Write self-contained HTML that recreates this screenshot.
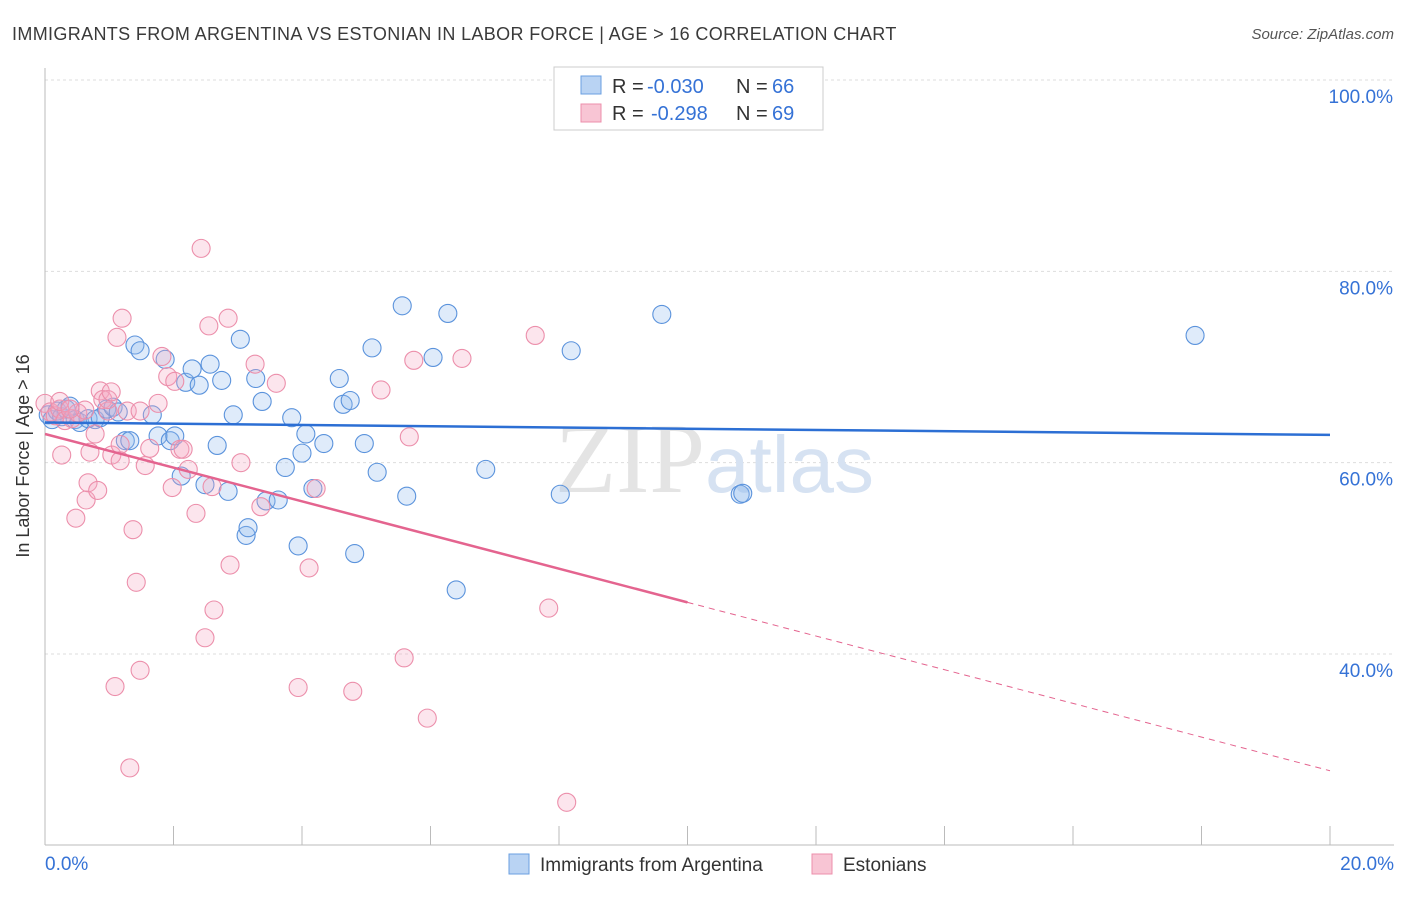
<!DOCTYPE html>
<html><head><meta charset="utf-8"><style>
body{margin:0;background:#fff;font-family:"Liberation Sans",sans-serif;}
</style></head><body>
<svg width="1406" height="892" xmlns="http://www.w3.org/2000/svg">
<text x="12" y="40" font-size="18" fill="#3a3a3a" letter-spacing="0.35">IMMIGRANTS FROM ARGENTINA VS ESTONIAN IN LABOR FORCE | AGE &gt; 16 CORRELATION CHART</text>
<text x="1394" y="39" font-size="15" fill="#555" text-anchor="end" font-style="italic">Source: ZipAtlas.com</text>
<g id="grid"></g>
<text x="555" y="492" font-size="100" fill="#e4e4e4" font-family="Liberation Serif">ZIP<tspan fill="#d6e2f2" font-family="Liberation Sans" font-size="80">atlas</tspan></text>
<line x1="45" y1="68" x2="45" y2="845" stroke="#bbb"/>
<line x1="45" y1="845" x2="1394" y2="845" stroke="#bbb"/>
<text x="29" y="456" font-size="18" fill="#333" text-anchor="middle" transform="rotate(-90 29 456)">In Labor Force | Age &gt; 16</text>
<g id="marks"></g>
<g>
<rect x="554" y="67" width="269" height="63" fill="#fff" stroke="#ccc"/>
<rect x="581" y="76" width="20" height="18" fill="#b9d3f3" stroke="#6a9fe0"/>
<rect x="581" y="104" width="20" height="18" fill="#f8c5d4" stroke="#ec8fab"/>
<text x="612" y="93" font-size="20" fill="#333">R =</text>
<text x="647" y="93" font-size="20" fill="#3572d6">-0.030</text>
<text x="736" y="93" font-size="20" fill="#333">N =</text>
<text x="772" y="93" font-size="20" fill="#3572d6">66</text>
<text x="612" y="120" font-size="20" fill="#333">R =</text>
<text x="651" y="120" font-size="20" fill="#3572d6">-0.298</text>
<text x="736" y="120" font-size="20" fill="#333">N =</text>
<text x="772" y="120" font-size="20" fill="#3572d6">69</text>
</g>
<g>
<rect x="509" y="854" width="20" height="20" fill="#b9d3f3" stroke="#6a9fe0"/>
<text x="540" y="871" font-size="19" fill="#333">Immigrants from Argentina</text>
<rect x="812" y="854" width="20" height="20" fill="#f8c5d4" stroke="#ec8fab"/>
<text x="843" y="871" font-size="19" fill="#333">Estonians</text>
</g>
</svg>
<script>
const yTicks=[100,80,60,40];
const xTicks=[0,2,4,6,8,10,12,14,16,18,20];
const blueX=[0.05,0.11,0.19,0.26,0.33,0.39,0.47,0.54,0.67,0.78,0.86,0.96,1.06,1.14,1.25,1.32,1.40,1.48,1.67,1.76,1.87,1.95,2.02,2.12,2.19,2.29,2.40,2.49,2.57,2.68,2.75,2.85,2.93,3.04,3.13,3.16,3.28,3.38,3.44,3.63,3.74,3.84,3.94,4.00,4.06,4.17,4.34,4.58,4.64,4.75,4.82,4.97,5.09,5.17,5.56,5.63,6.04,6.27,6.40,6.86,8.02,8.19,9.60,10.82,10.86,17.90];
const blueY=[65.0,64.5,65.4,64.8,65.6,65.9,64.5,64.2,64.6,64.5,64.7,65.6,65.8,65.3,62.3,62.3,72.3,71.7,65.0,62.8,70.8,62.3,62.8,58.6,68.4,69.8,68.1,57.7,70.3,61.8,68.6,57.0,65.0,72.9,52.4,53.2,68.8,66.4,56.0,56.1,59.5,64.7,51.3,61.0,63.0,57.3,62.0,68.8,66.1,66.5,50.5,62.0,72.0,59.0,76.4,56.5,71.0,75.6,46.7,59.3,56.7,71.7,75.5,56.7,56.8,73.3];
const pinkX=[0.0,0.08,0.16,0.23,0.31,0.42,0.51,0.62,0.70,0.78,0.86,0.90,0.98,1.04,1.12,1.17,1.20,1.28,1.37,1.42,1.48,1.56,1.63,1.76,1.82,1.91,1.98,2.02,2.10,2.15,2.23,2.35,2.43,2.49,2.55,2.60,2.63,2.85,2.88,3.05,3.27,3.36,3.60,3.94,4.11,4.22,4.79,5.23,5.59,5.67,5.74,5.95,6.49,7.63,7.84,8.12,1.32,1.09,0.48,0.64,0.67,0.82,0.98,1.17,0.26,1.48,1.03,0.23,0.39];
const pinkY=[66.2,65.3,64.9,65.6,64.4,64.6,65.2,65.5,61.1,63.0,67.5,66.6,65.4,60.8,73.1,61.9,75.1,65.4,53.0,47.5,38.3,59.7,61.5,66.2,71.1,69.0,57.4,68.5,61.4,61.4,59.3,54.7,82.4,41.7,74.3,57.5,44.6,75.1,49.3,60.0,70.3,55.4,68.3,36.5,49.0,57.3,36.1,67.6,39.6,62.7,70.7,33.3,70.9,73.3,44.8,24.5,28.1,36.6,54.2,56.1,57.9,57.1,66.6,60.2,60.8,65.4,67.4,66.4,65.6];
const blueFit=[64.2,62.9];
const pinkFit=[63.0,27.8];
const X=v=>45+v/20*1285, Y=v=>80+(100-v)*9.567;
const NS='http://www.w3.org/2000/svg';
const grid=document.getElementById('grid'), marks=document.getElementById('marks');
function mk(tag,at,parent){const e=document.createElementNS(NS,tag);for(const k in at)e.setAttribute(k,at[k]);parent.appendChild(e);return e;}
yTicks.forEach(t=>{
 const l=mk('line',{x1:45,x2:1394,y1:Y(t),y2:Y(t),stroke:'#ddd','stroke-dasharray':'3,3'},grid);
 
 
 const tx=mk('text',{x:1393,y:Y(t)+23,'font-size':19,fill:'#3572d6','text-anchor':'end'},grid);
 tx.textContent=t.toFixed(1)+'%';
 
 
});
xTicks.forEach(t=>{
 const l=mk('line',{x1:X(t),x2:X(t),y1:826,y2:845,stroke:'#bbb'},grid);
 
 
});
[[0,'0.0%',45,'start'],[20,'20.0%',1394,'end']].forEach(a=>{
 const tx=mk('text',{x:a[2],y:870,'font-size':19,fill:'#3572d6','text-anchor':a[3]},grid);
 tx.textContent=a[1];
 
 
});
blueX.forEach((v,i)=>{
 const c=mk('circle',{cx:X(v),cy:Y(blueY[i]),r:9,fill:'rgba(150,190,240,0.3)',stroke:'#5b93dc','stroke-width':1.1},marks);
 
 
});
pinkX.forEach((v,i)=>{
 const c=mk('circle',{cx:X(v),cy:Y(pinkY[i]),r:9,fill:'rgba(245,170,195,0.3)',stroke:'#ec8fab','stroke-width':1.1},marks);
 
 
});
const bl=mk('line',{x1:X(0),y1:Y(blueFit[0]),x2:X(20),y2:Y(blueFit[1]),stroke:'#2c6fd4','stroke-width':2.5},marks);


const pm=pinkFit[0]+(pinkFit[1]-pinkFit[0])*0.5;
const pl=mk('line',{x1:X(0),y1:Y(pinkFit[0]),x2:X(10),y2:Y(pm),stroke:'#e4648f','stroke-width':2.5},marks);


const pd=mk('line',{x1:X(10),y1:Y(pm),x2:X(20),y2:Y(pinkFit[1]),stroke:'#e4648f','stroke-width':1,'stroke-dasharray':'6,5'},marks);


</script>
</body></html>
